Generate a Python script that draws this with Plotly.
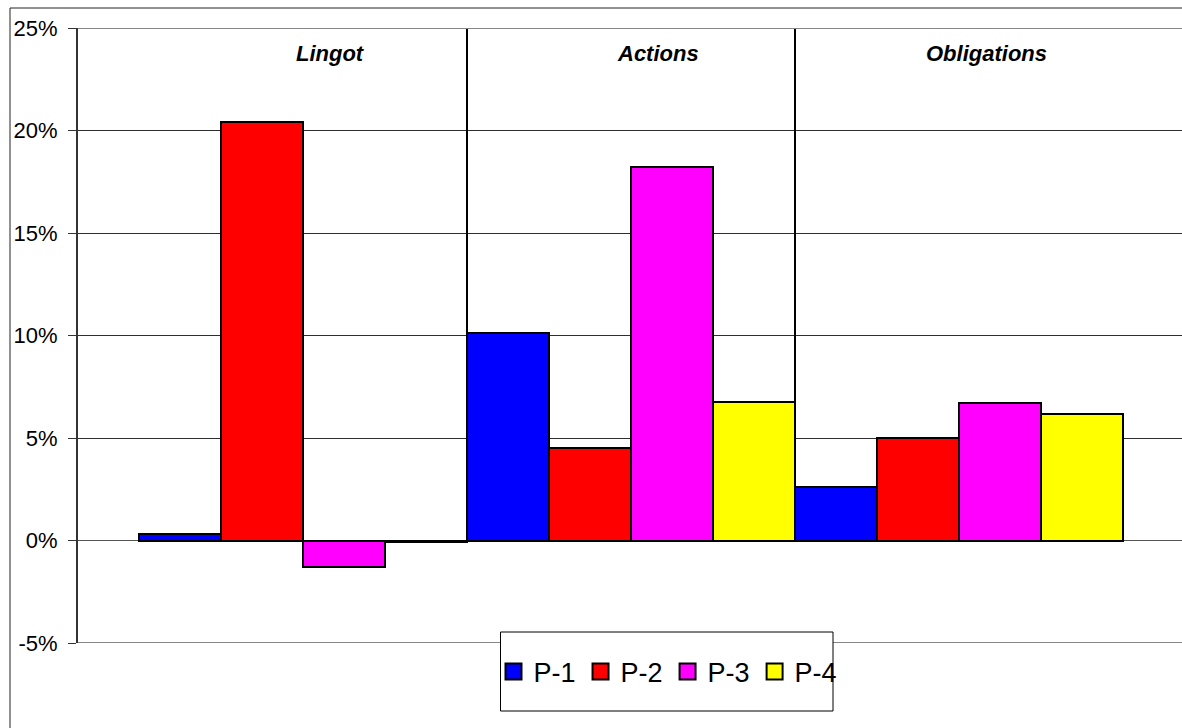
import plotly.graph_objects as go

# Asset classes (x categories) and the four portfolios' returns, in percent
categories = ["Lingot", "Actions", "Obligations"]
p1 = [0.3, 10.1, 2.6]
p2 = [20.4, 4.5, 5.0]
p3 = [-1.3, 18.2, 6.7]
p4 = [-0.05, 6.75, 6.15]

series_names = ["P-1", "P-2", "P-3", "P-4"]
series_values = [p1, p2, p3, p4]
series_colors = ["#0000FF", "#FF0000", "#FF00FF", "#FFFF00"]

tick_values = [-5, 0, 5, 10, 15, 20, 25]
tick_labels = ["-5%", "0%", "5%", "10%", "15%", "20%", "25%"]

W, H = 1182, 728
ML, MR, MT, MB = 78, 0, 28, 85
PW, PH = W - ML - MR, H - MT - MB

# category slots are 328 px wide; the plot starts 61 px before the first slot
slot = 328.0
x_lo = -0.5 - 61.0 / slot
x_hi = x_lo + PW / slot


def px_x(px):
    return (px - ML) / PW


def px_y(py):
    return (H - MB - py) / PH


xpos = list(range(len(categories)))

fig = go.Figure()
for name, vals, col in zip(series_names, series_values, series_colors):
    fig.add_trace(go.Bar(
        x=xpos, y=vals, name=name,
        marker=dict(color=col, line=dict(color="#000000", width=2)),
        showlegend=False,
    ))
    # legend swatch
    fig.add_trace(go.Scatter(
        x=[None], y=[None], mode="markers", name=name,
        marker=dict(symbol="square", size=18, color=col,
                    line=dict(color="#000000", width=2)),
        showlegend=True,
    ))

shapes = []
# separators between the asset classes
for xb in [0.5, 1.5]:
    shapes.append(dict(type="line", xref="x", yref="y", x0=xb, x1=xb, y0=0, y1=25,
                       line=dict(color="#000000", width=2), layer="above"))
# grey plot-area border (top and bottom)
for yb in [25, -5]:
    shapes.append(dict(type="line", xref="paper", yref="y", x0=0, x1=1, y0=yb, y1=yb,
                       line=dict(color="#868686", width=2), layer="above"))
# outer chart frame
shapes.append(dict(type="rect", xref="paper", yref="paper",
                   x0=px_x(10), x1=px_x(W + 20), y0=px_y(8), y1=px_y(H + 20),
                   line=dict(color="#222222", width=1), fillcolor="rgba(0,0,0,0)",
                   layer="above"))
# legend box
shapes.append(dict(type="rect", xref="paper", yref="paper",
                   x0=px_x(500.5), x1=px_x(833), y0=px_y(632), y1=px_y(711),
                   line=dict(color="#000000", width=1), fillcolor="#FFFFFF",
                   layer="above"))

annotations = []
for i, cat in enumerate(categories):
    annotations.append(dict(
        x=i + 27.0 / slot, y=px_y(53), xref="x", yref="paper",
        text="<b><i>%s</i></b>" % cat, showarrow=False,
        xanchor="center", yanchor="middle",
        font=dict(family="Liberation Sans, Arial, sans-serif", size=22, color="#000000"),
    ))

fig.update_layout(
    width=W, height=H,
    margin=dict(l=ML, r=MR, t=MT, b=MB, pad=0),
    paper_bgcolor="#FFFFFF", plot_bgcolor="#FFFFFF",
    barmode="group", bargap=0, bargroupgap=0,
    font=dict(family="Liberation Sans, Arial, sans-serif", color="#000000"),
    xaxis=dict(range=[x_lo, x_hi], showticklabels=False, showgrid=False,
               zeroline=False, showline=False, ticks=""),
    yaxis=dict(range=[-5, 25], tickvals=tick_values, ticktext=tick_labels,
               showgrid=True, gridcolor="#2E2E2E", gridwidth=1,
               zeroline=True, zerolinecolor="#555555", zerolinewidth=1,
               showline=True, linecolor="#333333", linewidth=2,
               ticks="outside", ticklen=8, tickcolor="#333333", tickwidth=1,
               ticklabelstandoff=6,
               tickfont=dict(size=22, color="#000000")),
    shapes=shapes,
    annotations=annotations,
    legend=dict(orientation="h", x=px_x(668), xanchor="center",
                y=px_y(672), yanchor="middle",
                bgcolor="rgba(0,0,0,0)", borderwidth=0,
                font=dict(size=27, color="#000000"),
                itemsizing="trace", tracegroupgap=0),
)

fig.write_html("out.html")
